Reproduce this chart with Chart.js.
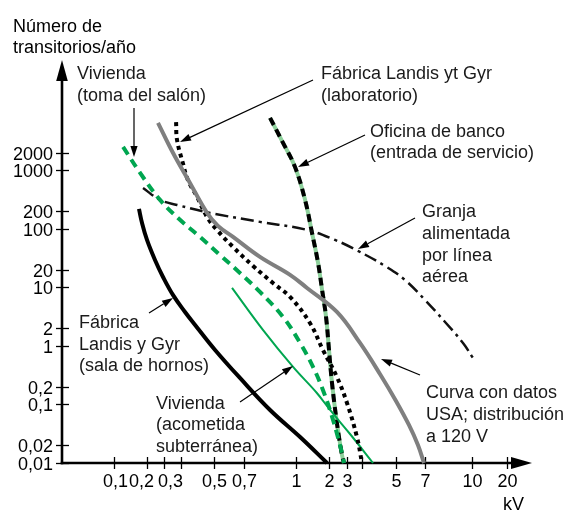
<!DOCTYPE html>
<html><head><meta charset="utf-8">
<script src="https://cdn.jsdelivr.net/npm/chart.js@4/dist/chart.umd.min.js"></script>
<style>html,body{margin:0;padding:0;background:#fff}canvas{display:block}</style>
</head><body>
<canvas id="c" width="570" height="511"></canvas>
<script>
// ---- axis definitions (the printed kV axis has non-uniform spacing) ----
const xTickKV     = [0.1, 0.2, 0.3, 0.4, 0.5, 0.7, 1, 2, 3, 4, 5, 7, 10, 20];
const xTickLabels = ['0,1','0,2','0,3','','0,5','0,7','1','2','3','','5','7','10','20'];
const xTickStops  = [52, 85, 102, 119, 152, 182, 234, 267, 285, 300, 334, 363, 410, 445];
const xLabelShift = [1, -6, 6, 0, 0, 0, 0, 0, 0, 0, 0, 0, 0, 0];
const yTickValues = [0.01, 0.02, 0.1, 0.2, 1, 2, 10, 20, 100, 200, 1000, 2000];
const yTickLabels = ['0,01','0,02','0,1','0,2','1','2','10','20','100','200','1000','2000'];

// ---- series (kV, transients per year) ----
const usaKV   = [0.26, 0.349, 0.425, 0.477, 0.523, 0.619, 0.781, 0.96, 1.26, 2.39, 3.85, 4.50, 5.0, 5.81, 6.45, 6.92];
const usaN    = [6500, 2000, 611, 188, 112.5, 73, 33.2, 16.4, 9.8, 3.81, 1.125, 0.332, 0.115, 0.0447, 0.0203, 0.01];
const labKV   = [0.368, 0.374, 0.405, 0.419, 0.446, 0.477, 0.517, 0.619, 0.745, 0.854, 0.96, 1.34, 1.76, 2.39, 3.0, 3.63, 4.0];
const labN    = [6700, 3320, 1340, 688, 352, 160, 96.2, 49.2, 23.3, 11.9, 6.88, 2.47, 0.855, 0.295, 0.106, 0.0278, 0.01];
const tomaKV  = [0.121, 0.173, 0.273, 0.393, 0.455, 0.535, 0.669, 0.781, 0.915, 1.09, 1.43, 1.76, 2.19, 2.74, 2.80];
const tomaN   = [2520, 906, 313, 143, 73, 35.9, 17.7, 8.38, 3.13, 1.125, 0.438, 0.177, 0.0543, 0.0127, 0.01];
const acomKV  = [0.612, 0.797, 0.98, 1.55, 2.05, 3.18, 4.30];
const acomN   = [9.8, 1.88, 0.438, 0.157, 0.0805, 0.0313, 0.01];
const hornKV  = [0.169, 0.18, 0.2, 0.242, 0.293, 0.349, 0.411, 0.44, 0.506, 0.669, 0.837, 1.09, 1.92];
const hornN   = [220, 127, 64.9, 29.5, 15.1, 7.45, 3.81, 2.29, 0.855, 0.284, 0.0805, 0.0278, 0.01];
const bancoKV = [0.837, 0.915, 0.993, 1.21, 1.40, 1.59, 1.73, 1.88, 2.0, 2.14, 2.39, 2.68, 2.80];
const bancoN  = [7900, 2950, 1150, 313, 85.5, 26.2, 9.06, 3.13, 0.855, 0.233, 0.0483, 0.0137, 0.01];
const granjaKV = [0.184, 0.273, 0.374, 0.487, 0.781, 1.26, 2.29, 3.70, 4.65, 5.55, 7.0, 8.15, 9.34, 10.2];
const granjaN  = [502, 313, 257, 188, 132, 96.2, 64.9, 42.1, 23.3, 13.4, 6.11, 2.57, 1.125, 0.624];

// map kV onto the printed (non-uniform, log-interpolated) axis
function axisPos(kv){
  const n = xTickKV.length;
  let i = 0;
  while (i < n - 2 && kv > xTickKV[i+1]) i++;
  const a = xTickKV[i], b = xTickKV[i+1];
  const f = Math.log(kv/a) / Math.log(b/a);
  return xTickStops[i] + f * (xTickStops[i+1] - xTickStops[i]);
}
function pts(kv, n){ return kv.map((k, i) => ({x: axisPos(k), y: n[i]})); }

const FONT = '18px "Liberation Sans", Arial, Helvetica, sans-serif';
const base = {showLine:true, pointRadius:0, fill:false, tension:0.4, clip:false, borderCapStyle:'butt', borderJoinStyle:'round'};

const labels = [
  {x:77,  y:[79,100.5], t:['Vivienda','(toma del salón)']},
  {x:321, y:[79,100.5], t:['Fábrica Landis yt Gyr','(laboratorio)']},
  {x:370, y:[137,158],  t:['Oficina de banco','(entrada de servicio)']},
  {x:422, y:[217,239,260.5,282], t:['Granja','alimentada','por línea','aérea']},
  {x:426, y:[398,420,442], t:['Curva con datos','USA; distribución','a 120 V']},
  {x:79,  y:[328,349.5,371], t:['Fábrica','Landis y Gyr','(sala de hornos)']},
  {x:156, y:[408.5,430,452], t:['Vivienda','(acometida','subterránea)']}
];
const arrows = [
  [134,108,134,157],[313,80,180,142],[365,135,298,167],[415,218,358,249],
  [420,375,381,359],[149,313,173,298],[240,402,293,366]
];

const overlay = {
  id:'overlay',
  beforeDatasetsDraw(chart){
    const ctx = chart.ctx, ca = chart.chartArea, xs = chart.scales.x, ys = chart.scales.y;
    ctx.save();
    ctx.strokeStyle = '#000'; ctx.fillStyle = '#000';
    ctx.lineWidth = 2.6;
    ctx.beginPath(); ctx.moveTo(ca.left, ca.bottom+1.3); ctx.lineTo(ca.left, ca.top+18); ctx.stroke();
    ctx.beginPath(); ctx.moveTo(ca.left-1.3, ca.bottom); ctx.lineTo(ca.right-18, ca.bottom); ctx.stroke();
    ctx.beginPath(); ctx.moveTo(ca.left, ca.top); ctx.lineTo(ca.left-5.8, ca.top+21); ctx.lineTo(ca.left+5.8, ca.top+21); ctx.closePath(); ctx.fill();
    ctx.beginPath(); ctx.moveTo(ca.right, ca.bottom); ctx.lineTo(ca.right-21, ca.bottom-6); ctx.lineTo(ca.right-21, ca.bottom+6); ctx.closePath(); ctx.fill();
    ctx.lineWidth = 1.3;
    ctx.font = FONT;
    ctx.textAlign = 'right'; ctx.textBaseline = 'alphabetic';
    yTickValues.forEach((v, i) => {
      const py = Math.round(ys.getPixelForValue(v)) + 0.5;
      ctx.beginPath(); ctx.moveTo(ca.left-6, py); ctx.lineTo(ca.left+7, py); ctx.stroke();
      ctx.fillText(yTickLabels[i], ca.left-9, py+6.5);
    });
    ctx.textAlign = 'center';
    xTickKV.forEach((v, i) => {
      const px = Math.round(xs.getPixelForValue(axisPos(v))) + 0.5;
      ctx.beginPath(); ctx.moveTo(px, ca.bottom-6); ctx.lineTo(px, ca.bottom+6); ctx.stroke();
      if (xTickLabels[i]) ctx.fillText(xTickLabels[i], px + xLabelShift[i], ca.bottom+24);
    });
    ctx.textAlign = 'left';
    ctx.fillText('kV', 503, 510);
    ctx.fillText('Número de', 13, 31.5);
    ctx.fillText('transitorios/año', 13, 52.5);
    ctx.restore();
  },
  afterDatasetsDraw(chart){
    const ctx = chart.ctx;
    ctx.save();
    ctx.font = FONT; ctx.fillStyle = '#1a1a1a'; ctx.textAlign = 'left'; ctx.textBaseline = 'alphabetic';
    labels.forEach(l => l.t.forEach((s, j) => ctx.fillText(s, l.x, l.y[j])));
    ctx.strokeStyle = '#000'; ctx.fillStyle = '#000'; ctx.lineWidth = 1.2;
    arrows.forEach(([x1,y1,x2,y2]) => {
      const ang = Math.atan2(y2-y1, x2-x1), L = 11, W = 3.6;
      const bx = x2 - L*Math.cos(ang), by = y2 - L*Math.sin(ang);
      ctx.beginPath(); ctx.moveTo(x1, y1); ctx.lineTo(bx, by); ctx.stroke();
      ctx.beginPath(); ctx.moveTo(x2, y2);
      ctx.lineTo(bx + W*Math.sin(ang), by - W*Math.cos(ang));
      ctx.lineTo(bx - W*Math.sin(ang), by + W*Math.cos(ang));
      ctx.closePath(); ctx.fill();
    });
    ctx.restore();
  }
};

new Chart(document.getElementById('c'), {
  type: 'scatter',
  data: { datasets: [
    Object.assign({}, base, {label:'Curva con datos USA', data:pts(usaKV, usaN), borderColor:'#7f7f7f', borderWidth:4, order:0}),
    Object.assign({}, base, {label:'Fábrica Landis yt Gyr (laboratorio)', data:pts(labKV, labN), borderColor:'#000', borderWidth:4, borderDash:[4,4], order:0}),
    Object.assign({}, base, {label:'Vivienda (toma del salón)', data:pts(tomaKV, tomaN), borderColor:'#00a650', borderWidth:4, borderDash:[9,6], order:0}),
    Object.assign({}, base, {label:'Vivienda (acometida subterránea)', data:pts(acomKV, acomN), borderColor:'#00a650', borderWidth:2, order:0}),
    Object.assign({}, base, {label:'Fábrica Landis y Gyr (sala de hornos)', data:pts(hornKV, hornN), borderColor:'#000', borderWidth:4, order:0}),
    Object.assign({}, base, {label:'Oficina de banco (fondo)', data:pts(bancoKV, bancoN), borderColor:'#8ed19c', borderWidth:4, order:2}),
    Object.assign({}, base, {label:'Oficina de banco', data:pts(bancoKV, bancoN), borderColor:'#000', borderWidth:4, borderDash:[8,5], order:1}),
    Object.assign({}, base, {label:'Granja alimentada por línea aérea', data:pts(granjaKV, granjaN), borderColor:'#111', borderWidth:2.5, borderDash:[13,5,3,5], order:0})
  ]},
  options: {
    responsive:false, animation:false, events:[],
    layout:{padding:{left:62, right:38, top:60, bottom:48}},
    scales:{
      x:{type:'linear', display:false, min:0, max:470},
      y:{type:'logarithmic', display:false, min:0.01, max:77000}
    },
    plugins:{legend:{display:false}, tooltip:{enabled:false}}
  },
  plugins:[overlay]
});
</script>
</body></html>
